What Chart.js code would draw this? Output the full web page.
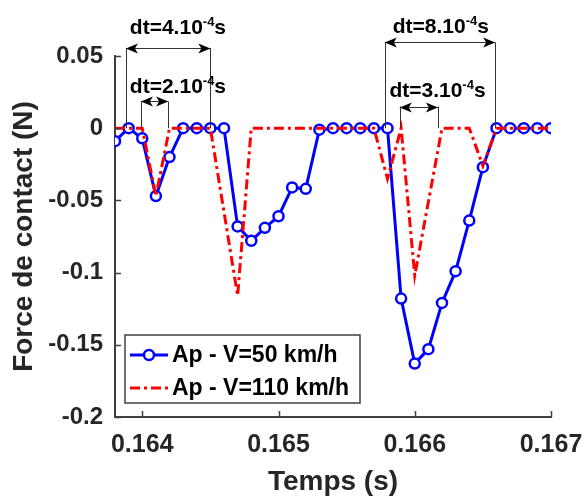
<!DOCTYPE html>
<html>
<head>
<meta charset="utf-8">
<script src="https://cdn.jsdelivr.net/npm/chart.js@4.4.0/dist/chart.umd.min.js"></script>
<style>
    html, body { margin: 0; padding: 0; background: #fff; }
    #wrap { width: 584px; height: 496px; }
</style>
</head>
<body>
<div id="wrap"><canvas id="forceChart" width="584" height="496"></canvas></div>
<script>
    // Axis ticks
    var timeTicks = [0.164, 0.165, 0.166, 0.167];
    var timeTickLabels = ["0.164", "0.165", "0.166", "0.167"];
    var forceTicks = [0.05, 0, -0.05, -0.1, -0.15, -0.2];
    var forceTickLabels = ["0.05", "0", "-0.05", "-0.1", "-0.15", "-0.2"];

    // Ap - V=50 km/h (sampled every 1e-4 s)
    var time50 = [0.1638, 0.1639, 0.1640, 0.1641, 0.1642, 0.1643, 0.1644, 0.1645, 0.1646, 0.1647, 0.1648,
                  0.1649, 0.1650, 0.1651, 0.1652, 0.1653, 0.1654, 0.1655, 0.1656, 0.1657, 0.1658, 0.1659,
                  0.1660, 0.1661, 0.1662, 0.1663, 0.1664, 0.1665, 0.1666, 0.1667, 0.1668, 0.1669, 0.1670];
    var force50 = [-0.009, 0, -0.007, -0.047, -0.020, 0, 0, 0, 0, -0.068, -0.078,
                   -0.069, -0.061, -0.041, -0.042, -0.001, 0, 0, 0, 0, 0, -0.118,
                   -0.163, -0.153, -0.121, -0.099, -0.064, -0.027, 0, 0, 0, 0, 0];

    // Ap - V=110 km/h (corners of the dash-dot curve)
    var time110 = [0.1638, 0.1640, 0.1641, 0.1642, 0.1645, 0.1647, 0.1648, 0.1657,
                   0.1658, 0.1659, 0.1660, 0.1662, 0.1664, 0.1665, 0.1666, 0.1670];
    var force110 = [0, 0, -0.047, 0, 0, -0.116, 0, 0,
                    -0.035, 0, -0.102, 0, 0, -0.026, 0, 0];

    // dt annotations
    var dtNotes = [
        { label: "dt=4.10", exp: "-4", x1: 0.16388, x2: 0.16450, yArrow: 0.0555, xText: 0.164262, yText: 0.0654 },
        { label: "dt=2.10", exp: "-4", x1: 0.16399, x2: 0.16419, yArrow: 0.0185, xText: 0.164262, yText: 0.0243 },
        { label: "dt=8.10", exp: "-4", x1: 0.16578, x2: 0.16659, yArrow: 0.0594, xText: 0.166191, yText: 0.0659 },
        { label: "dt=3.10", exp: "-4", x1: 0.16589, x2: 0.16617, yArrow: 0.0150, xText: 0.166167, yText: 0.0215 }
    ];

    var FONT = "'Liberation Sans', Arial, Helvetica, sans-serif";
    var AXIS_COLOR = "#404040";
    var TEXT_COLOR = "#262626";

    function pairs(xs, ys) {
        return xs.map(function (x, i) { return { x: x, y: ys[i] }; });
    }

    function arrowHead(ctx, x, y, dir) {
        // dir: -1 points left, 1 points right
        ctx.beginPath();
        ctx.moveTo(x, y);
        ctx.lineTo(x - dir * 12, y - 5);
        ctx.lineTo(x - dir * 9, y);
        ctx.lineTo(x - dir * 12, y + 5);
        ctx.closePath();
        ctx.fill();
    }

    // Inward ticks, dt annotations and the boxed legend
    var decorPlugin = {
        id: "decor",
        afterDraw: function (chart) {
            var ctx = chart.ctx;
            var xs = chart.scales.x, ys = chart.scales.y;
            var area = chart.chartArea;

            ctx.save();
            ctx.strokeStyle = AXIS_COLOR;
            ctx.lineWidth = 1.5;
            ctx.beginPath();
            timeTicks.forEach(function (t) {
                var px = Math.round(xs.getPixelForValue(t)) + 0.5;
                ctx.moveTo(px, area.bottom);
                ctx.lineTo(px, area.bottom - 6);
            });
            forceTicks.forEach(function (f) {
                var py = Math.round(ys.getPixelForValue(f)) + 0.5;
                ctx.moveTo(area.left, py);
                ctx.lineTo(area.left + 6, py);
            });
            ctx.stroke();

            // dt annotations
            var y0 = ys.getPixelForValue(0);
            dtNotes.forEach(function (n) {
                var a = xs.getPixelForValue(n.x1), b = xs.getPixelForValue(n.x2);
                var ya = ys.getPixelForValue(n.yArrow);
                ctx.strokeStyle = "#333";
                ctx.lineWidth = 1;
                ctx.beginPath();
                ctx.moveTo(Math.round(a) + 0.5, ya);
                ctx.lineTo(Math.round(a) + 0.5, y0);
                ctx.moveTo(Math.round(b) + 0.5, ya);
                ctx.lineTo(Math.round(b) + 0.5, y0);
                ctx.moveTo(a, Math.round(ya) + 0.5);
                ctx.lineTo(b, Math.round(ya) + 0.5);
                ctx.stroke();
                ctx.fillStyle = "#000";
                arrowHead(ctx, a, Math.round(ya) + 0.5, -1);
                arrowHead(ctx, b, Math.round(ya) + 0.5, 1);

                ctx.font = "bold 21px " + FONT;
                var w1 = ctx.measureText(n.label).width;
                var w3 = ctx.measureText("s").width;
                ctx.font = "bold 13px " + FONT;
                var w2 = ctx.measureText(n.exp).width;
                var total = w1 + w2 + w3;
                var x = xs.getPixelForValue(n.xText) - total / 2;
                var yb = ys.getPixelForValue(n.yText);
                ctx.textBaseline = "alphabetic";
                ctx.textAlign = "left";
                ctx.fillStyle = "#000";
                ctx.font = "bold 21px " + FONT;
                ctx.fillText(n.label, x, yb);
                ctx.font = "bold 13px " + FONT;
                ctx.fillText(n.exp, x + w1, yb - 8);
                ctx.font = "bold 21px " + FONT;
                ctx.fillText("s", x + w1 + w2, yb);
            });

            // Legend box
            var lx = area.left + 10, ly = area.bottom - 82, lw = 235, lh = 68;
            ctx.fillStyle = "#fff";
            ctx.fillRect(lx, ly, lw, lh);
            ctx.strokeStyle = AXIS_COLOR;
            ctx.lineWidth = 1.5;
            ctx.strokeRect(lx, ly, lw, lh);
            chart.data.datasets.forEach(function (ds, i) {
                var cy = ly + 20 + i * 33;
                ctx.save();
                ctx.strokeStyle = ds.borderColor;
                ctx.lineWidth = ds.borderWidth;
                ctx.setLineDash(ds.borderDash || []);
                ctx.beginPath();
                ctx.moveTo(lx + 5, cy);
                ctx.lineTo(lx + 43, cy);
                ctx.stroke();
                ctx.restore();
                if (ds.pointRadius > 0) {
                    ctx.beginPath();
                    ctx.arc(lx + 24, cy, ds.pointRadius, 0, Math.PI * 2);
                    ctx.fillStyle = "#fff";
                    ctx.fill();
                    ctx.strokeStyle = ds.pointBorderColor;
                    ctx.lineWidth = ds.pointBorderWidth;
                    ctx.stroke();
                }
                ctx.fillStyle = "#000";
                ctx.font = "bold 23px " + FONT;
                ctx.textBaseline = "middle";
                ctx.textAlign = "left";
                ctx.fillText(ds.label, lx + 47, cy + 1);
            });
            ctx.restore();
        }
    };

    var ctx = document.getElementById("forceChart").getContext("2d");
    var forceChart = new Chart(ctx, {
        type: "line",
        data: {
            datasets: [{
                label: "Ap - V=50 km/h",
                data: pairs(time50, force50),
                borderColor: "#0000ff",
                borderWidth: 3,
                pointRadius: 5,
                pointBorderWidth: 2.5,
                pointBorderColor: "#0000ff",
                pointBackgroundColor: "#ffffff",
                tension: 0,
                order: 2
            }, {
                label: "Ap - V=110 km/h",
                data: pairs(time110, force110),
                borderColor: "#ff0000",
                borderWidth: 3,
                borderDash: [10, 4, 3, 4],
                pointRadius: 0,
                tension: 0,
                order: 1
            }]
        },
        options: {
            responsive: false,
            animation: false,
            devicePixelRatio: 1,
            layout: { padding: { top: 56, right: 33, left: 0, bottom: 0 } },
            plugins: {
                legend: { display: false },
                tooltip: { enabled: false }
            },
            scales: {
                x: {
                    type: "linear",
                    min: 0.1638,
                    max: 0.167,
                    afterBuildTicks: function (s) { s.ticks = timeTicks.map(function (v) { return { value: v }; }); },
                    afterFit: function (s) { s.height = 79; s.paddingLeft = 0; s.paddingRight = 0; },
                    grid: { display: false, drawTicks: false },
                    border: { color: AXIS_COLOR, width: 2 },
                    ticks: {
                        color: TEXT_COLOR,
                        padding: 13,
                        maxRotation: 0,
                        font: { family: FONT, size: 25, weight: "bold" },
                        callback: function (v) { return timeTickLabels[timeTicks.indexOf(v)]; }
                    },
                    title: {
                        display: true,
                        text: "Temps (s)",
                        color: TEXT_COLOR,
                        padding: { top: 0, bottom: 0 },
                        font: { family: FONT, size: 28, weight: "bold", lineHeight: 1 }
                    }
                },
                y: {
                    min: -0.2,
                    max: 0.05,
                    afterBuildTicks: function (s) { s.ticks = forceTicks.map(function (v) { return { value: v }; }); },
                    afterFit: function (s) { s.width = 115; s.paddingTop = 0; s.paddingBottom = 0; },
                    grid: { display: false, drawTicks: false },
                    border: { color: AXIS_COLOR, width: 2 },
                    ticks: {
                        color: TEXT_COLOR,
                        padding: 12,
                        font: { family: FONT, size: 24, weight: "bold" },
                        callback: function (v) { return forceTickLabels[forceTicks.indexOf(v)]; }
                    },
                    title: {
                        display: true,
                        text: "Force de contact (N)",
                        color: TEXT_COLOR,
                        padding: { top: 10, bottom: 0 },
                        font: { family: FONT, size: 28, weight: "bold", lineHeight: 1 }
                    }
                }
            }
        },
        plugins: [decorPlugin]
    });
</script>
</body>
</html>
